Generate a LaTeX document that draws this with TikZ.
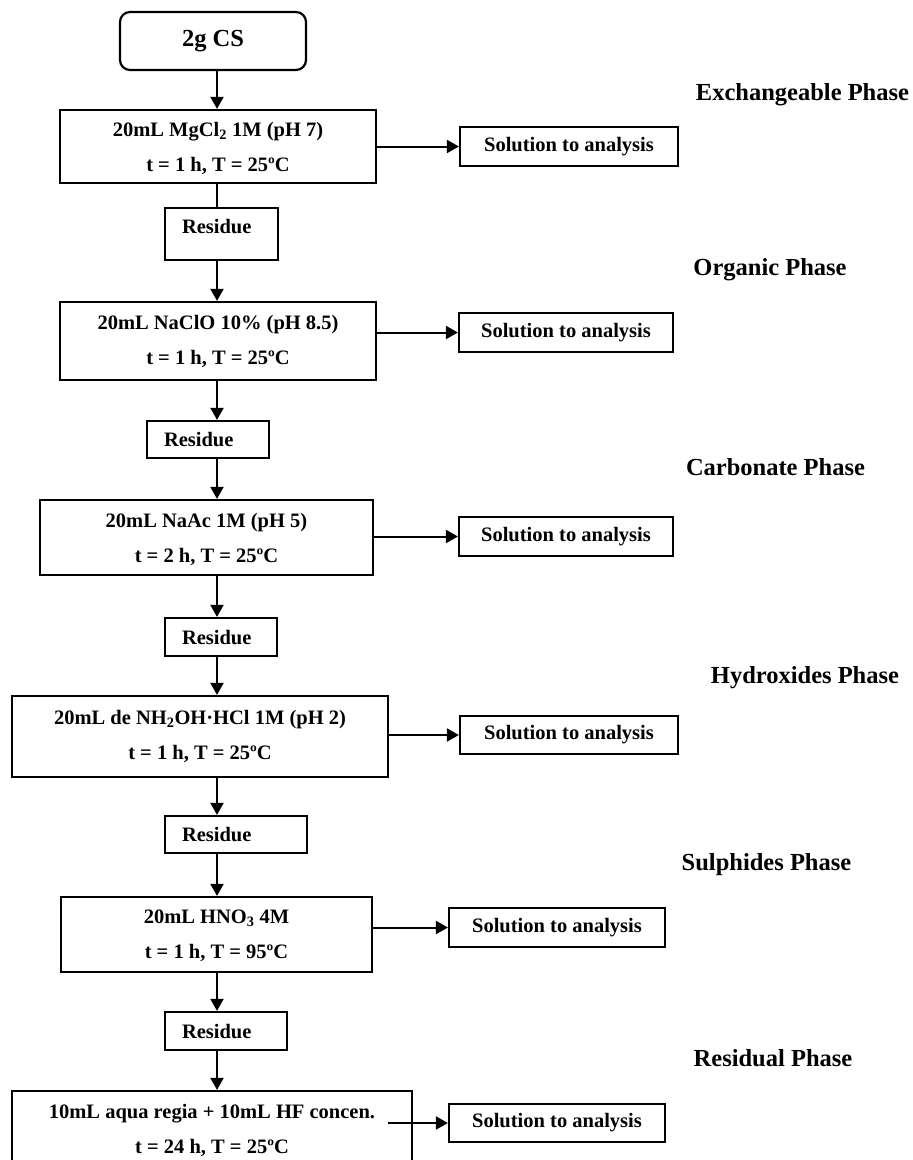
\documentclass[tikz,border=0pt]{standalone}
\usepackage{fontspec}
\setmainfont{Liberation Serif}
\usetikzlibrary{arrows.meta}
\usetikzlibrary{positioning}
\usetikzlibrary{calc}

\begin{document}
\begin{tikzpicture}[->,>={Triangle[length=12pt,width=13pt]},x=1pt,y=-1pt,
					line width=2pt]
					\tikzstyle{every node}=[font=\bfseries\fontsize{20.5}{35}\selectfont,line width=2.2pt]
					\tikzstyle{stage}=[shape=rectangle,draw,align=center,inner sep=0pt]
					\tikzstyle{residue}=[shape=rectangle,draw,align=left,inner xsep=17pt,inner ysep=0pt,
						minimum height=37pt,text height=14pt,text depth=0pt]
					\tikzstyle{solution}=[shape=rectangle,draw,inner sep=0pt,minimum width=216pt,minimum height=39pt]
					\tikzstyle{phase}=[font=\bfseries\fontsize{24.5}{29}\selectfont]
					
					\useasboundingbox (0,0) rectangle (913,1160);
					\clip (0,0) rectangle (913,1160);
					
					\coordinate (axis) at (217,0);
					
					\node[draw,rounded corners=10pt,minimum width=186pt,minimum height=58pt,
						font=\bfseries\fontsize{24.5}{29}\selectfont] (S) at (213,41) {2g CS};
					
					\node[stage,minimum width=316pt,minimum height=73pt] (P_1) at (218,146.5)
						{\rule{0pt}{18pt}20mL MgCl\textsubscript{2} 1M (pH 7)\\t = 1 h, T = 25ºC};
					\node[residue,text width=79pt,minimum height=52pt,text depth=15pt] (R_1) at (221.5,234) {Residue};
					\node[stage,minimum width=316pt,minimum height=78pt] (P_2) at (218,341)
						{20mL NaClO 10\% (pH 8.5)\\t = 1 h, T = 25ºC};
					\node[residue,text width=88pt] (R_2) at (208,439.5) {Residue};
					\node[stage,minimum width=333pt,minimum height=75pt] (P_3) at (206.5,537.5)
						{\rule{0pt}{18pt}20mL NaAc 1M (pH 5)\\t = 2 h, T = 25ºC};
					\node[residue,text width=78pt,minimum height=38pt] (R_3) at (221,637) {Residue};
					\node[stage,minimum width=376pt,minimum height=81pt] (P_4) at (200,736.5)
						{20mL de NH\textsubscript{2}OH·HCl 1M (pH 2)\\t = 1 h, T = 25ºC};
					\node[residue,text width=108pt] (R_4) at (236,834.5) {Residue};
					\node[stage,minimum width=311pt,minimum height=75pt] (P_5) at (216.5,934.5)
						{\rule{0pt}{16pt}20mL HNO\textsubscript{3} 4M\\t = 1 h, T = 95ºC};
					\node[residue,text width=88pt,minimum height=38pt] (R_5) at (226,1031) {Residue};
					\node[stage,minimum width=400pt,minimum height=78pt] (P_6) at (212,1130)
						{10mL aqua regia + 10mL HF concen.\\t = 24 h, T = 25ºC};
					
					\node[solution,minimum width=218pt] (A_1) at (569,146.5) {Solution to analysis};
					\node[solution,minimum width=214pt] (A_2) at (566,332.5) {Solution to analysis};
					\node[solution,minimum width=214pt] (A_3) at (566,536.5) {Solution to analysis};
					\node[solution,minimum width=218pt,minimum height=38pt] (A_4) at (569,735) {Solution to analysis};
					\node[solution] (A_5) at (557,927.5) {Solution to analysis};
					\node[solution,minimum height=38pt] (A_6) at (557,1123) {Solution to analysis};
					\coordinate (C_6) at (388,1123);
					
					\node[phase] (F_1) at (802.5,95) {Exchangeable Phase};
					\node[phase] (F_2) at (770,270) {Organic Phase};
					\node[phase] (F_3) at (775.5,467) {Carbonate Phase};
					\node[phase] (F_4) at (805,678) {Hydroxides Phase};
					\node[phase] (F_5) at (766.5,865) {Sulphides Phase};
					\node[phase] (F_6) at (773,1058) {Residual Phase};
					
					\path (S.south -| axis) edge (P_1.north -| axis)
					(P_1.south -| axis) edge[-] (R_1.north -| axis)
					(R_1.south -| axis) edge (P_2.north -| axis)
					(P_2.south -| axis) edge (R_2.north -| axis)
					(R_2.south -| axis) edge (P_3.north -| axis)
					(P_3.south -| axis) edge (R_3.north -| axis)
					(R_3.south -| axis) edge (P_4.north -| axis)
					(P_4.south -| axis) edge (R_4.north -| axis)
					(R_4.south -| axis) edge (P_5.north -| axis)
					(P_5.south -| axis) edge (R_5.north -| axis)
					(R_5.south -| axis) edge (P_6.north -| axis)
					(P_1.east |- A_1) edge (A_1.west)
					(P_2.east |- A_2) edge (A_2.west)
					(P_3.east |- A_3) edge (A_3.west)
					(P_4.east |- A_4) edge (A_4.west)
					(P_5.east |- A_5) edge (A_5.west)
					(C_6) edge (A_6.west)
					;
\end{tikzpicture}
\end{document}
